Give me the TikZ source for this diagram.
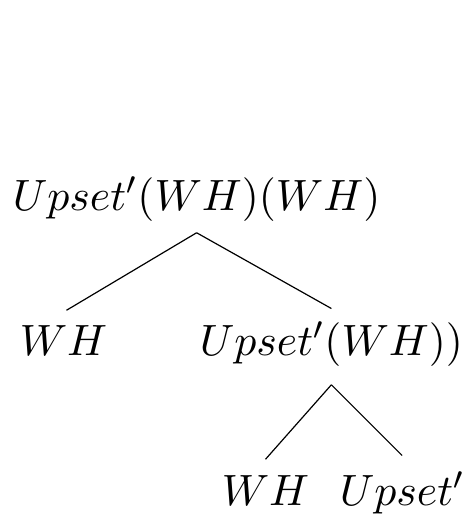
\documentclass[tikz,border=0pt]{standalone}
\usetikzlibrary{calc}
\begin{document}
\begin{tikzpicture}[x=0.25pt,y=-0.25pt,
  lbl/.style={inner sep=0pt, anchor=base west, font=\fontsize{11.3}{13}\selectfont},
  edge/.style={draw=black, line width=0.3pt}]
\useasboundingbox (0,0) rectangle (463,514);
\node[lbl] (root) at (12,210) {$Upset'(WH)(WH)$};
\node[lbl] (wh1) at (19,355) {$WH$};
\node[lbl] (mid) at (199,355) {$Upset'(WH))$};
\node[lbl] (wh2) at (221,505) {$WH$};
\node[lbl] (up) at (339,505) {$Upset'$};
\coordinate (a1) at ($(root.south)+(0,11)$);
\coordinate (a2) at ($(mid.south)+(0,18)$);
\draw[edge] (a1) -- ($(wh1.north)+(3,-14)$);
\draw[edge] (a1) -- ($(mid.north)+(0,-12)$);
\draw[edge] (a2) -- ($(wh2.north)+(0,-15)$);
\draw[edge] (a2) -- ($(up.north)+(0,-15)$);
\end{tikzpicture}
\end{document}
